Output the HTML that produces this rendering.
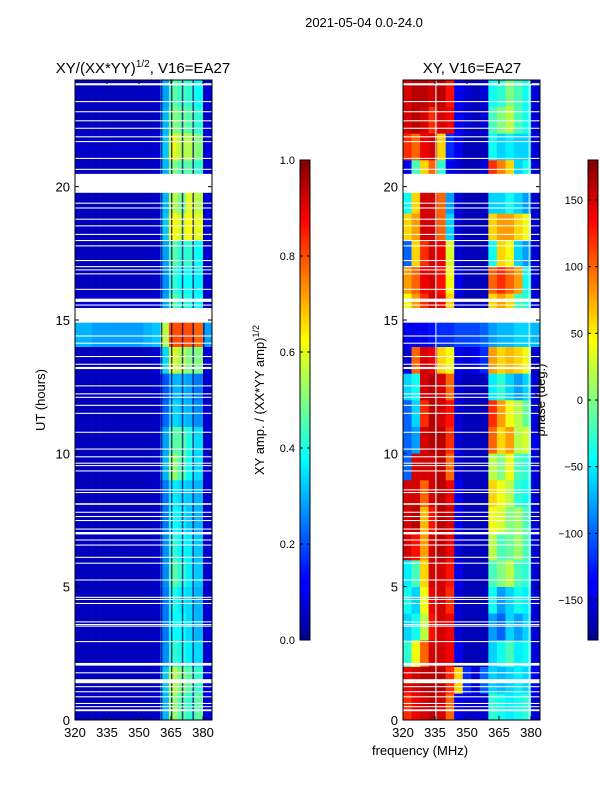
<!DOCTYPE html>
<html><head><meta charset="utf-8"><style>
body{margin:0;background:#fff;width:600px;height:800px;overflow:hidden;font-family:"Liberation Sans","DejaVu Sans",sans-serif}
svg text{font-family:"Liberation Sans","DejaVu Sans",sans-serif;fill:#000}
</style></head><body>
<svg id="fig" width="600" height="800" xmlns="http://www.w3.org/2000/svg">
<defs>
<linearGradient id="jetV" x1="0" y1="1" x2="0" y2="0">
<stop offset="0" stop-color="#00008f"/><stop offset="0.11" stop-color="#0000ff"/><stop offset="0.125" stop-color="#0000ff"/>
<stop offset="0.375" stop-color="#00ffff"/><stop offset="0.5" stop-color="#80ff80"/><stop offset="0.625" stop-color="#ffff00"/>
<stop offset="0.875" stop-color="#ff0000"/><stop offset="1" stop-color="#800000"/>
</linearGradient>
</defs>
<text x="364" y="27" font-size="13" text-anchor="middle">2021-05-04 0.0-24.0</text>
<text x="143" y="73" font-size="15" text-anchor="middle">XY/(XX*YY)<tspan font-size="10" dy="-6">1/2</tspan><tspan dy="6">, V16=EA27</tspan></text>
<text x="472" y="73" font-size="15" text-anchor="middle">XY, V16=EA27</text>
<text transform="translate(45,400) rotate(-90)" font-size="13" text-anchor="middle">UT (hours)</text>
<text x="420" y="755" font-size="13" text-anchor="middle">frequency (MHz)</text>
<g id="left"></g>
<g id="right"></g>
<g id="cb1"></g>
<g id="cb2"></g>
<text transform="translate(264,400) rotate(-90)" font-size="13" text-anchor="middle">XY amp. / (XX*YY amp)<tspan font-size="9" dy="-5">1/2</tspan></text>
<text transform="translate(545,400) rotate(-90)" font-size="13" text-anchor="middle">phase (deg.)</text>
</svg>
<script>
// frequency bin starts (MHz), hour bin starts
const freqBins=[320,324,328,332,336,340,344,348,352,356,360,364,368,372,376,380];
const hourBins=[0,1,2,3,4,5,6,7,8,9,10,11,12,13,14,15,16,17,18,19,20,21,22,23];
const xTicks=[320,335,350,365,380];
const yTicks=[0,5,10,15,20];
// amplitude ratio per hour row (rows bottom to top), per freq bin
const ampGrid=[
[.06,.06,.06,.06,.06,.06,.06,.06,.06,.07,.3,.52,.46,.42,.46,.1],
[.06,.06,.06,.06,.06,.06,.06,.06,.06,.07,.32,.55,.5,.46,.42,.1],
[.06,.06,.06,.06,.06,.06,.06,.06,.06,.07,.26,.42,.4,.36,.34,.09],
[.06,.06,.06,.06,.06,.06,.06,.06,.06,.07,.24,.38,.38,.34,.3,.09],
[.06,.06,.06,.06,.06,.06,.06,.06,.06,.07,.24,.4,.36,.34,.3,.09],
[.06,.06,.06,.06,.06,.06,.06,.06,.06,.07,.26,.46,.42,.36,.32,.09],
[.06,.06,.06,.06,.06,.06,.06,.06,.06,.07,.26,.42,.38,.36,.32,.09],
[.06,.06,.06,.06,.06,.06,.06,.06,.06,.07,.24,.38,.36,.32,.3,.09],
[.06,.06,.06,.06,.06,.06,.06,.06,.06,.07,.24,.36,.34,.32,.3,.09],
[.06,.06,.06,.06,.06,.06,.06,.06,.06,.07,.3,.52,.46,.38,.34,.09],
[.06,.06,.06,.06,.06,.06,.06,.06,.06,.07,.28,.46,.46,.4,.34,.09],
[.06,.06,.06,.06,.06,.06,.06,.06,.06,.07,.22,.34,.32,.3,.26,.09],
[.06,.06,.06,.06,.06,.06,.06,.06,.06,.07,.2,.3,.3,.28,.24,.09],
[.06,.06,.06,.06,.06,.06,.06,.06,.06,.08,.34,.58,.55,.5,.5,.1],
[.3,.3,.28,.28,.28,.28,.28,.28,.3,.32,.55,.8,.8,.8,.78,.28],
[.07,.07,.07,.07,.07,.07,.07,.07,.07,.08,.28,.46,.42,.4,.38,.09],
[.06,.06,.06,.06,.06,.06,.06,.06,.06,.07,.26,.42,.38,.38,.36,.09],
[.06,.06,.06,.06,.06,.06,.06,.06,.06,.07,.28,.46,.42,.42,.38,.09],
[.06,.06,.06,.06,.06,.06,.06,.06,.06,.07,.32,.62,.58,.62,.6,.1],
[.06,.06,.06,.06,.06,.06,.06,.06,.06,.07,.3,.55,.5,.6,.55,.1],
[.06,.06,.06,.06,.06,.06,.06,.06,.06,.07,.3,.5,.46,.46,.42,.09],
[.07,.07,.07,.07,.07,.07,.07,.07,.07,.08,.32,.6,.55,.55,.5,.1],
[.06,.06,.06,.06,.06,.06,.06,.06,.06,.07,.3,.5,.48,.46,.42,.09],
[.06,.06,.06,.06,.06,.06,.06,.06,.06,.07,.28,.46,.44,.42,.38,.09]
];
// XY phase (deg) per hour row, per freq bin
const phaseGrid=[
[120,140,150,160,150,100,-140,-150,-150,-150,-30,-40,-50,-40,-30,-150],
[140,150,160,160,160,120,60,-120,-150,-100,-60,-70,-60,-50,-60,-140],
[-30,40,100,150,150,140,-140,-160,-160,-160,-60,-40,-20,-50,-40,-150],
[-60,-40,20,130,150,140,-150,-160,-160,-160,-80,-100,-60,-80,-60,-150],
[-40,-60,40,140,150,120,-150,-160,-160,-160,-40,-80,-60,-40,-50,-150],
[-50,-20,60,150,150,130,-140,-160,-160,-160,-20,0,20,-20,-30,-150],
[150,130,80,150,160,140,-150,-160,-160,-160,20,-20,-10,10,-20,-150],
[150,160,70,130,160,150,-140,-160,-160,-160,40,30,0,10,-20,-150],
[150,150,100,150,160,140,-140,-160,-160,-160,60,40,20,-30,-40,-150],
[-100,150,150,150,160,100,-150,-160,-160,-160,20,0,40,-20,-30,-150],
[-100,-80,150,160,160,120,-150,-160,-160,-160,100,60,80,20,30,-140],
[-100,-60,120,160,150,130,-150,-160,-160,-160,120,80,40,20,-10,-150],
[-60,-40,150,160,150,100,-150,-160,-160,-160,-50,-30,-60,-80,-60,-150],
[-150,100,150,140,60,40,-140,-150,-140,-120,80,60,70,60,40,-150],
[-140,-140,-140,-130,-120,-120,-110,-110,-110,-100,-80,-70,-70,-60,-60,-70],
[40,80,120,150,140,60,-150,-160,-160,-160,60,80,60,-20,-30,-150],
[80,100,140,150,130,40,-140,-160,-160,-160,100,120,100,80,-40,-150],
[-100,60,120,150,140,30,-150,-160,-160,-160,-40,60,40,-60,-80,-150],
[60,80,150,150,100,-60,-150,-160,-160,-160,60,80,80,60,40,-150],
[-40,60,150,150,100,-80,-150,-160,-160,-160,-60,-60,-40,-60,-80,-150],
[-140,-20,60,100,-30,-140,-150,-160,-160,-150,120,90,60,-60,-40,-150],
[120,100,140,150,60,-120,-140,-160,-160,-160,-40,-60,-50,-60,-60,-150],
[150,160,150,120,150,140,-140,-150,-160,-150,-20,0,20,-20,-40,-150],
[150,160,160,150,160,130,-140,-150,-160,-150,-40,-30,0,-20,-40,-150]
];
// flagged time ranges (hours) shown as white bands
const flagStart=[23.80,23.17,22.79,22.45,22.17,21.85,21.67,21.04,20.63,19.77,19.36,19.18,18.76,18.51,18.19,17.96,17.76,17.21,16.98,16.86,16.71,16.13,15.68,15.54,14.90,14.38,14.11,13.61,13.32,13.16,12.51,12.21,12.08,11.78,11.48,10.77,10.14,9.85,9.61,9.52,9.32,8.61,8.51,8.07,7.77,7.61,7.46,7.14,6.96,6.73,6.54,6.08,5.86,5.23,4.58,4.50,4.35,3.66,3.56,3.50,2.92,2.04,1.75,1.38,1.23,1.04,0.85,0.60,0.48,0.33];
const flagEnd=[23.88,23.21,22.83,22.49,22.21,21.89,21.71,21.08,20.67,20.48,19.40,19.22,18.80,18.55,18.23,18.00,17.80,17.25,17.02,16.90,16.75,16.17,15.80,15.58,15.45,14.42,14.15,13.65,13.36,13.24,12.55,12.25,12.12,11.82,11.52,10.81,10.18,9.89,9.65,9.56,9.36,8.65,8.55,8.13,7.81,7.65,7.50,7.18,7.05,6.77,6.58,6.12,5.90,5.27,4.62,4.54,4.39,3.70,3.60,3.54,2.96,2.14,1.79,1.53,1.27,1.08,0.89,0.64,0.52,0.40];
// dark channel separators (MHz) in amplitude panel; RFI channels in phase panel
const sepFreqs=[360.6,365.3,370.4,375.4,380.4];
const rfiFreqs=[335.4,379.2];
const ampTicks=[0,0.2,0.4,0.6,0.8,1.0];
const phaseTicks=[-150,-100,-50,0,50,100,150];

const NS="http://www.w3.org/2000/svg";
function jet(v){v=Math.max(0,Math.min(1,v));
 const c=t=>Math.round(255*Math.max(0,Math.min(1,1.5-Math.abs(t))));
 return `rgb(${c(4*v-3)},${c(4*v-2)},${c(4*v-1)})`;}
function mk(parent,tag,attrs){const e=document.createElementNS(NS,tag);for(const k in attrs)e.setAttribute(k,attrs[k]);parent.appendChild(e);return e;}
const FMIN=320,FMAX=384.2,HMAX=24;
function xs(x0){return f=>x0+(f-FMIN)/(FMAX-FMIN)*137;}
const ys=h=>720-h/HMAX*640;

function panel(id,x0,grid,norm,seps,sepColor){
 const g=document.getElementById(id),x=xs(x0);
 grid.forEach((row,i)=>{row.forEach((v,j)=>{
  const f0=freqBins[j],f1=j+1<freqBins.length?freqBins[j+1]:FMAX,h0=hourBins[i],h1=h0+1;
  const r=mk(g,'rect',{x:x(f0),y:ys(h1),width:x(f1)-x(f0)+0.3,height:ys(h0)-ys(h1)+0.3,fill:jet(norm(v))});
  
  
 });});
 seps.forEach(f=>{const l=mk(g,'line',{x1:x(f),x2:x(f),y1:80,y2:720,stroke:sepColor,'stroke-width':1.5,opacity:0.75});
  
  });
 flagStart.forEach((s,i)=>{const r=mk(g,'rect',{x:x0,y:ys(flagEnd[i]),width:137,height:Math.max(1,ys(s)-ys(flagEnd[i])),fill:'#fff'});
  
  });
 const fr=mk(g,'rect',{x:x0,y:80,width:137,height:640,fill:'none',stroke:'#000','stroke-width':1});
 
 
 xTicks.forEach(t=>{const px=x(t);
  mk(g,'line',{x1:px,x2:px,y1:720,y2:716,stroke:'#000'});mk(g,'line',{x1:px,x2:px,y1:80,y2:84,stroke:'#000'});
  const tx=mk(g,'text',{x:px,y:737,'font-size':13,'text-anchor':'middle'});tx.textContent=t;
  
  });
 yTicks.forEach(t=>{const py=ys(t);
  mk(g,'line',{x1:x0,x2:x0+4,y1:py,y2:py,stroke:'#000'});mk(g,'line',{x1:x0+137,x2:x0+133,y1:py,y2:py,stroke:'#000'});
  const tx=mk(g,'text',{x:x0-5,y:py+5,'font-size':13,'text-anchor':'end'});tx.textContent=t;
  
  });
}
panel('left',75,ampGrid,v=>v,sepFreqs,'#000070');
panel('right',403,phaseGrid,v=>(v+180)/360,rfiFreqs,'#c0ffff');

function cbar(id,x0,ticks,lo,hi,fmt){
 const g=document.getElementById(id);
 const r=mk(g,'rect',{x:x0,y:160,width:10,height:480,fill:'url(#jetV)',stroke:'#000','stroke-width':1});
 
 
 ticks.forEach(t=>{const py=640-(t-lo)/(hi-lo)*480;
  mk(g,'line',{x1:x0,x2:x0+3,y1:py,y2:py,stroke:'#000'});mk(g,'line',{x1:x0+10,x2:x0+7,y1:py,y2:py,stroke:'#000'});
  const tx=mk(g,'text',{x:x0-5,y:py+4,'font-size':11,'text-anchor':'end'});tx.textContent=fmt(t);
  
  });
}
cbar('cb1',300,ampTicks,0,1,t=>t.toFixed(1));
cbar('cb2',588,phaseTicks,-180,180,t=>t<0?'\u2212'+(-t):String(t));
</script>
</body></html>
